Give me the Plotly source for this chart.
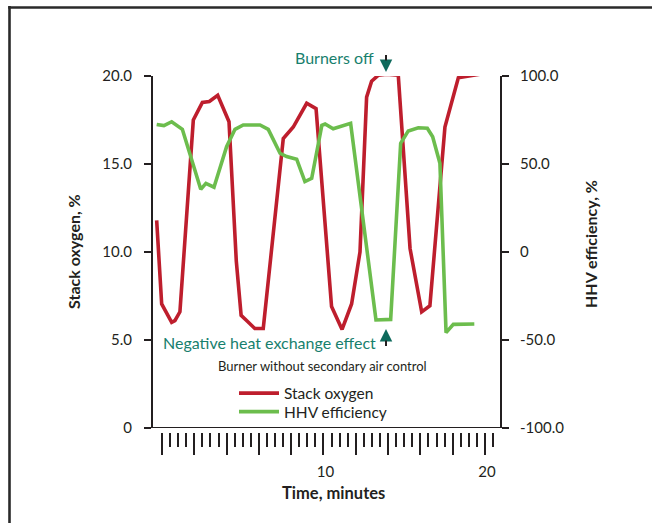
import plotly.graph_objects as go

# ---------------- data ----------------
time_o2 = [-0.33, -0.02, 0.6, 0.8, 1.11, 1.94, 2.5, 2.93, 3.45, 4.15, 4.6, 4.9,
           5.3, 5.75, 6.27, 7.51, 8.13, 8.96, 9.54, 10.5, 11.15, 11.74, 12.26,
           12.67, 12.98, 13.4, 13.91, 14.63, 15.36, 16.08, 16.59, 17.52, 18.35, 20.0]
stack_o2 = [11.8, 7.05, 6.0, 6.1, 6.6, 17.5, 18.5, 18.55, 18.9, 17.4, 9.5, 6.4,
            6.05, 5.65, 5.65, 16.45, 17.1, 18.45, 18.15, 6.9, 5.6, 7.05, 10.0,
            18.8, 19.7, 20.05, 20.1, 20.05, 10.2, 6.6, 6.95, 17.1, 19.9, 20.15]

time_eff = [-0.33, 0.12, 0.6, 1.26, 2.4, 2.72, 3.22, 4.0, 4.52, 5.03, 6.07, 6.58,
            7.31, 7.72, 8.34, 8.85, 9.27, 9.9, 10.1, 10.6, 11.68, 13.25, 14.16,
            14.78, 15.25, 15.87, 16.43, 16.76, 17.21, 17.59, 18.04, 19.34]
hhv_eff = [72.5, 71.8, 74.0, 69.7, 35.6, 39.0, 36.8, 59.8, 69.7, 72.2, 72.2, 69.7,
           56.1, 54.2, 52.7, 40.0, 41.9, 72.0, 72.7, 70.0, 73.1, -38.6, -38.3,
           61.8, 68.8, 70.6, 70.3, 65.5, 50.4, -45.8, -41.1, -40.9]

x_major = list(range(0, 21, 2))
x_major_text = [str(v) if v in (10, 20) else "" for v in x_major]
x_minor = [i * 0.5 for i in range(0, 42)]

y_left_vals = [0, 5, 10, 15, 20]
y_left_text = ["0", "5.0", "10.0", "15.0", "20.0"]
y_right_vals = [-100, -50, 0, 50, 100]
y_right_text = ["-100.0", "-50.0", "0", "50.0", "100.0"]

# ---------------- styling / layout helpers ----------------
W, H = 652, 523
L, R, T, BP, PB = 153, 500, 76, 432, 428   # plot left/right/top, paper bottom, plot bottom
X_RANGE = [-0.557, 20.93]
DARK = "#231f20"
RED = "#be1e2d"
GREEN = "#6cbd4d"
TEAL = "#17806d"
TEAL_DARK = "#0e6a5c"
FONT = "Lato"


def px(x):
    return (x - L) / (R - L)


def py(y):
    return (BP - y) / (BP - T)


fig = go.Figure()
fig.add_trace(go.Scatter(x=time_o2, y=stack_o2, mode="lines", name="Stack oxygen",
                         line=dict(color=RED, width=3.6), yaxis="y", legend="legend"))
fig.add_trace(go.Scatter(x=time_eff, y=hhv_eff, mode="lines", name="HHV efficiency",
                         line=dict(color=GREEN, width=3.6), yaxis="y2", legend="legend2"))
# empty trace so the long-tick axis is always drawn
fig.add_trace(go.Scatter(x=[], y=[], xaxis="x2", yaxis="y", showlegend=False,
                         hoverinfo="skip"))

legend_style = dict(xanchor="left", yanchor="top", itemwidth=40,
                    font=dict(family=FONT, size=15.5, color=DARK),
                    bgcolor="rgba(0,0,0,0)", borderwidth=0)

fig.update_layout(
    width=W, height=H,
    margin=dict(l=L, r=W - R, t=T, b=H - BP, pad=0, autoexpand=False),
    paper_bgcolor="white", plot_bgcolor="white",
    font=dict(family=FONT, color=DARK, size=14),
    showlegend=True,
    legend=dict(x=px(234), y=py(376.5), **legend_style),
    legend2=dict(x=px(234), y=py(395), **legend_style),
    # short ticks every half minute
    xaxis=dict(range=X_RANGE, anchor="free", position=0,
               showline=False, showgrid=False, zeroline=False, automargin=False,
               tickmode="array", tickvals=x_minor, showticklabels=False,
               ticks="outside", ticklen=14, tickwidth=1.8, tickcolor=DARK,
               fixedrange=True),
    # long ticks every 2 minutes, labelled at 10 and 20
    xaxis2=dict(range=X_RANGE, overlaying="x", anchor="free", position=0,
                showline=False, showgrid=False, zeroline=False, automargin=False,
                tickmode="array", tickvals=x_major, ticktext=x_major_text,
                ticks="outside", ticklen=22, tickwidth=1.8, tickcolor=DARK,
                ticklabelstandoff=4, ticklabelshift=2,
                tickfont=dict(family=FONT, size=15, color=DARK),
                fixedrange=True),
    yaxis=dict(range=[0, 20], domain=[py(PB), 1], anchor="x", automargin=False,
               showline=True, linecolor=DARK, linewidth=2,
               showgrid=False, zeroline=False,
               tickmode="array", tickvals=y_left_vals, ticktext=y_left_text,
               ticks="outside", ticklen=7, tickwidth=2, tickcolor=DARK,
               ticklabelstandoff=9,
               tickfont=dict(family=FONT, size=15, color=DARK), fixedrange=True),
    yaxis2=dict(range=[-100, 100], overlaying="y", side="right", anchor="x", automargin=False,
                showline=True, linecolor=DARK, linewidth=2,
                showgrid=False, zeroline=False,
                tickmode="array", tickvals=y_right_vals, ticktext=y_right_text,
                ticks="outside", ticklen=7, tickwidth=2, tickcolor=DARK,
                ticklabelstandoff=8,
                tickfont=dict(family=FONT, size=15, color=DARK), fixedrange=True),
)

# bottom axis line of the plot frame, and the outer figure frame
fig.add_shape(type="line", xref="paper", yref="y", x0=0, x1=1, y0=0, y1=0,
              line=dict(color=DARK, width=2))
fig.add_shape(type="line", xref="paper", yref="paper", x0=px(9.5), x1=px(9.5),
              y0=py(6), y1=py(530), line=dict(color="#2a2a2a", width=2.6))
fig.add_shape(type="line", xref="paper", yref="paper", x0=px(8.2), x1=px(660),
              y0=py(7.5), y1=py(7.5), line=dict(color="#2a2a2a", width=2.6))


def label(text, x, y, size, color=DARK, angle=0):
    return dict(text=text, x=px(x), y=py(y), xref="paper", yref="paper",
                xanchor="center", yanchor="middle", showarrow=False, textangle=angle,
                font=dict(family=FONT, size=size, color=color))


ann = [
    label("<b>Time, minutes</b>", 333, 493, 16.5),
    label("<b>Stack oxygen, %</b>", 73, 252, 16, angle=-90),
    label("<b>HHV efficiency, %</b>", 590, 244, 16, angle=-90),
    label("Burners off", 334, 57.5, 16, TEAL),
    label("Negative heat exchange effect", 269, 342.5, 16, TEAL),
    label("Burner without secondary air control", 322, 366, 13),
]
# arrows: teal heads, black stems
ann.append(dict(text="", x=px(386), y=py(72), xref="paper", yref="paper", showarrow=True,
                ax=0, ay=-12, arrowhead=2, arrowwidth=2, arrowsize=1.25, arrowcolor=TEAL_DARK))
ann.append(dict(text="", x=px(386), y=py(60.5), xref="paper", yref="paper", showarrow=True,
                ax=0, ay=-7, arrowhead=0, arrowwidth=2, arrowcolor=DARK))
ann.append(dict(text="", x=px(386), y=py(329), xref="paper", yref="paper", showarrow=True,
                ax=0, ay=12, arrowhead=2, arrowwidth=2, arrowsize=1.25, arrowcolor=TEAL_DARK))
ann.append(dict(text="", x=px(386), y=py(340.5), xref="paper", yref="paper", showarrow=True,
                ax=0, ay=7, arrowhead=0, arrowwidth=2, arrowcolor=DARK))
fig.update_layout(annotations=ann)

fig.write_html("out.html", config={"displayModeBar": False},
               post_script="document.body.style.margin='0px';document.body.style.overflow='hidden';")
